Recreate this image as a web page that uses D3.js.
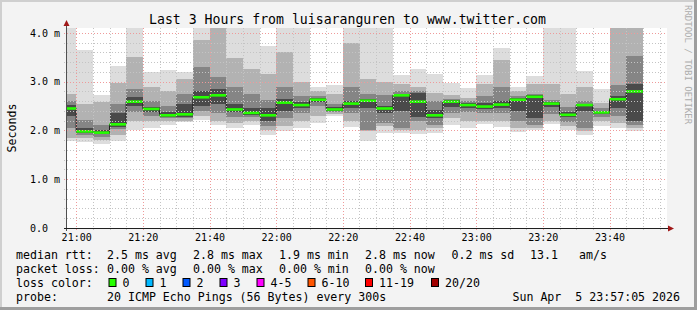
<!DOCTYPE html>
<html>
<head>
<meta charset="utf-8">
<script src="https://d3js.org/d3.v7.min.js"></script>
<style>
    html, body {
        margin: 0px;
        padding: 0px;
        background-color: #f3f3f3;
    }
    svg { display: block; }
    text {
        font-family: "DejaVu Sans Mono", monospace;
        fill: #000;
    }
</style>
</head>
<body>
<svg id="chart" width="697" height="310"></svg>
<script>
// 5 minute slots (start of each step)
const slots = ["20:55","21:00","21:05","21:10","21:15","21:20","21:25","21:30","21:35","21:40",
               "21:45","21:50","21:55","22:00","22:05","22:10","22:15","22:20","22:25","22:30",
               "22:35","22:40","22:45","22:50","22:55","23:00","23:05","23:10","23:15","23:20",
               "23:25","23:30","23:35","23:40","23:45"];
// median rtt in ms
const median = [2.45,1.98,1.955,2.125,2.59,2.44,2.31,2.33,2.68,2.72,
                2.43,2.36,2.31,2.57,2.52,2.63,2.43,2.55,2.61,2.45,
                2.72,2.59,2.31,2.59,2.52,2.49,2.53,2.63,2.69,2.55,
                2.32,2.52,2.37,2.64,2.8];
// smoke bands, outermost (all pings) to innermost (around median), ms
const lo1 = [1.78,1.76,1.72,1.79,2.0,2.04,2.12,2.17,2.22,2.12,2.06,2.12,1.91,1.98,2.06,2.15,2.29,2.08,1.79,1.95,1.95,1.93,1.95,2.12,2.06,2.13,2.08,1.97,2.0,2.13,2.0,1.91,2.1,2.05,1.99];
const hi1 = [4.3,3.64,2.72,3.32,4.3,3.19,3.23,3.2,4.3,4.3,4.1,4.09,3.73,4.3,4.1,2.9,2.94,4.1,4.1,4.1,3.13,3.25,3.16,2.97,2.87,3.13,3.68,2.9,3.11,4.1,4.1,3.21,2.84,4.3,4.3];
const lo2 = [1.85,1.85,1.8,1.9,2.2,2.2,2.2,2.2,2.3,2.2,2.15,2.2,2.0,2.1,2.2,2.3,2.33,2.2,1.98,2.1,2.0,2.0,2.05,2.25,2.2,2.2,2.2,2.05,2.05,2.2,2.1,1.98,2.2,2.15,2.05];
const hi2 = [2.75,2.55,2.58,2.97,3.5,2.9,2.8,3.05,3.85,4.3,3.48,3.25,3.15,3.6,3.0,2.8,2.75,3.8,3.05,3.0,2.95,2.9,2.77,2.73,2.66,2.95,3.45,2.8,2.95,2.95,2.75,2.9,2.56,4.3,4.3];
const lo3 = [2.05,1.9,1.87,2.03,2.38,2.3,2.25,2.25,2.4,2.35,2.28,2.27,2.1,2.25,2.35,2.5,2.37,2.35,2.0,2.15,2.05,2.2,2.12,2.35,2.38,2.35,2.35,2.2,2.12,2.33,2.18,2.05,2.28,2.3,2.12];
const hi3 = [2.6,2.22,2.12,2.55,2.85,2.6,2.5,2.75,3.3,3.1,2.9,2.75,2.63,2.9,2.7,2.7,2.55,2.9,2.75,2.72,2.8,2.8,2.6,2.65,2.6,2.7,2.9,2.7,2.75,2.62,2.48,2.6,2.45,2.94,3.52];
const lo4 = [2.3,1.94,1.92,2.08,2.5,2.38,2.28,2.28,2.5,2.55,2.38,2.32,2.2,2.4,2.45,2.58,2.4,2.45,2.45,2.35,2.4,2.27,2.25,2.48,2.46,2.43,2.45,2.4,2.25,2.48,2.27,2.4,2.33,2.45,2.2];
const hi4 = [2.52,2.06,2.0,2.35,2.68,2.48,2.37,2.55,2.8,2.85,2.55,2.45,2.45,2.65,2.58,2.66,2.48,2.6,2.65,2.5,2.75,2.76,2.42,2.62,2.56,2.56,2.6,2.66,2.72,2.58,2.37,2.55,2.4,2.7,2.95];

const yTicks = [0, 1, 2, 3, 4];
const xTickLabels = ["21:00","21:20","21:40","22:00","22:20","22:40","23:00","23:20","23:40"];
const lossLabels = ["0","1","2","3","4-5","6-10","11-19","20/20"];
const lossColors = ["#26ff00","#00b8ff","#0059ff","#7e00ff","#ff00ff","#ff5500","#ff0000","#a10000"];

const W = 697, H = 310;
const plot = {left: 67, top: 28, width: 600, height: 200};
const parseHM = d3.timeParse("%H:%M");
const parseHMS = d3.timeParse("%H:%M:%S");

const x = d3.scaleTime()
    .domain([parseHMS("20:57:15"), parseHMS("23:57:15")])
    .range([plot.left, plot.left + plot.width]);
const y = d3.scaleLinear()
    .domain([0, 4.1])
    .range([plot.top + plot.height, plot.top]);

const svg = d3.select("#chart");

// canvas + 3d border
svg.append("rect").attr("width", W).attr("height", H).attr("fill", "#f3f3f3");
svg.append("rect").attr("x", 0).attr("y", 0).attr("width", W).attr("height", 2).attr("fill", "#cfcfcf");
svg.append("rect").attr("x", 0).attr("y", 0).attr("width", 2).attr("height", H).attr("fill", "#cfcfcf");
svg.append("rect").attr("x", 0).attr("y", H - 3).attr("width", W).attr("height", 3).attr("fill", "#9e9e9e");
svg.append("rect").attr("x", W - 3).attr("y", 0).attr("width", 3).attr("height", H).attr("fill", "#9e9e9e");

// plot background
svg.append("rect")
    .attr("x", plot.left).attr("y", plot.top)
    .attr("width", plot.width).attr("height", plot.height)
    .attr("fill", "#ffffff");

svg.append("clipPath").attr("id", "clip")
    .append("rect")
    .attr("x", plot.left).attr("y", plot.top)
    .attr("width", plot.width).attr("height", plot.height);

const cols = slots.map((s, i) => {
    const t0 = parseHM(s);
    return {t0: t0, t1: d3.timeMinute.offset(t0, 5), i: i};
});

// smoke, lightest band first, darker towards the median
const bands = [
    {lo: lo1, hi: hi1, color: "#dddddd"},
    {lo: lo2, hi: hi2, color: "#b2b2b2"},
    {lo: lo3, hi: hi3, color: "#858585"},
    {lo: lo4, hi: hi4, color: "#4a4a4a"}
];
const data = svg.append("g").attr("clip-path", "url(#clip)");
bands.forEach(b => {
    data.append("g")
        .selectAll("rect")
        .data(cols)
        .enter()
        .append("rect")
            .attr("x", d => x(d.t0))
            .attr("width", d => x(d.t1) - x(d.t0))
            .attr("y", d => y(b.hi[d.i]))
            .attr("height", d => y(b.lo[d.i]) - y(b.hi[d.i]))
            .attr("fill", b.color)
            .attr("shape-rendering", "crispEdges");
});

// median step line
const stepPts = cols.map(d => [d.t0, median[d.i]]);
stepPts.push([cols[cols.length - 1].t1, median[median.length - 1]]);
data.append("path")
    .datum(stepPts)
    .attr("fill", "none")
    .attr("stroke", "#202020")
    .attr("stroke-width", 1)
    .attr("d", d3.line()
        .x(d => x(d[0]))
        .y(d => y(d[1]))
        .curve(d3.curveStepAfter));

// median coloured by loss (all 0 loss here)
data.append("g")
    .selectAll("rect")
    .data(cols)
    .enter()
    .append("rect")
        .attr("x", d => x(d.t0))
        .attr("width", d => x(d.t1) - x(d.t0))
        .attr("y", d => y(median[d.i]) - 1.3)
        .attr("height", 2.6)
        .attr("fill", lossColors[0]);

// grid
const minorY = d3.range(1, 21).map(v => v * 0.2).filter(v => Math.abs(v - Math.round(v)) > 0.01 && v < 4.1);
const majorY = yTicks.filter(v => v > 0);
const minorX = d3.timeMinute.every(5).range(x.domain()[0], x.domain()[1])
    .filter(t => t.getMinutes() % 20 !== 0);
const majorX = xTickLabels.map(parseHM);

const grid = svg.append("g");
function hLines(vals, color) {
    grid.append("g").selectAll("line").data(vals).enter().append("line")
        .attr("x1", plot.left - 3).attr("x2", plot.left + plot.width)
        .attr("y1", d => Math.round(y(d)) + 0.5).attr("y2", d => Math.round(y(d)) + 0.5)
        .attr("stroke", color).attr("stroke-dasharray", "1,2");
}
function vLines(vals, color) {
    grid.append("g").selectAll("line").data(vals).enter().append("line")
        .attr("x1", d => Math.round(x(d)) + 0.5).attr("x2", d => Math.round(x(d)) + 0.5)
        .attr("y1", plot.top).attr("y2", plot.top + plot.height + 3)
        .attr("stroke", color).attr("stroke-dasharray", "1,2");
}
hLines(minorY, "#c4c4c4");
vLines(minorX, "#c4c4c4");
hLines(majorY, "#ef9a9a");
vLines(majorX, "#ef9a9a");

// axes
svg.append("line")
    .attr("x1", plot.left - 0.5).attr("x2", plot.left - 0.5)
    .attr("y1", plot.top + plot.height + 3).attr("y2", 24)
    .attr("stroke", "#505050");
svg.append("path")
    .attr("d", `M${plot.left - 3.5},26 L${plot.left - 0.5},20 L${plot.left + 2.5},26 Z`)
    .attr("fill", "#a01818");
svg.append("line")
    .attr("x1", plot.left - 3).attr("x2", plot.left + plot.width + 3)
    .attr("y1", plot.top + plot.height + 0.5).attr("y2", plot.top + plot.height + 0.5)
    .attr("stroke", "#202020");
svg.append("path")
    .attr("d", `M${plot.left + plot.width + 1},${plot.top + plot.height - 2.5} L${plot.left + plot.width + 7},${plot.top + plot.height + 0.5} L${plot.left + plot.width + 1},${plot.top + plot.height + 3.5} Z`)
    .attr("fill", "#a01818");

// x tick labels
const xAxis = svg.append("g")
    .attr("transform", "translate(0," + (plot.top + plot.height) + ")")
    .call(d3.axisBottom(x)
        .tickValues(majorX)
        .tickSize(0)
        .tickPadding(5.5)
        .tickFormat(d3.timeFormat("%H:%M")));
xAxis.select(".domain").remove();
xAxis.selectAll("text")
    .attr("font-size", 10)
    .attr("font-family", "DejaVu Sans Mono")
    .attr("fill", "#000");

// y tick labels, left aligned like rrdtool pads them
const yAxis = svg.append("g")
    .attr("transform", "translate(" + plot.left + ",0)")
    .call(d3.axisLeft(y)
        .tickValues(yTicks)
        .tickSize(0)
        .tickFormat(d => d === 0 ? "0.0" : d3.format(".1f")(d) + " m"));
yAxis.select(".domain").remove();
yAxis.selectAll("text")
    .attr("x", 30 - plot.left)
    .attr("text-anchor", "start")
    .attr("font-size", 10)
    .attr("font-family", "DejaVu Sans Mono")
    .attr("fill", "#000");

// title and axis label
svg.append("text")
    .attr("x", 347.5).attr("y", 23.5)
    .attr("text-anchor", "middle")
    .attr("font-size", 13.2)
    .text("Last 3 Hours from luisaranguren to www.twitter.com");

svg.append("text")
    .attr("transform", "translate(15.5,128) rotate(-90)")
    .attr("text-anchor", "middle")
    .attr("font-size", 11.6)
    .text("Seconds");

svg.append("text")
    .attr("transform", "translate(688,5) rotate(90)")
    .attr("dominant-baseline", "central")
    .attr("font-size", 9)
    .style("fill", "#adadad")
    .text("RRDTOOL / TOBI OETIKER");

// legend
const fs = 11.6;
function legendRow(yb, items) {
    items.forEach(it => {
        svg.append("text")
            .attr("x", it[0]).attr("y", yb)
            .attr("font-size", fs)
            .attr("xml:space", "preserve")
            .text(it[1]);
    });
}
legendRow(258.5, [[16, "median rtt:"], [107, "2.5 ms avg"], [193, "2.8 ms max"], [279, "1.9 ms min"],
                  [365, "2.8 ms now"], [451.5, "0.2 ms sd"], [530, "13.1"], [579, "am/s"]]);
legendRow(272.5, [[16, "packet loss:"], [107, "0.00 % avg"], [193, "0.00 % max"], [279, "0.00 % min"],
                  [365, "0.00 % now"]]);
legendRow(286.5, [[16, "loss color:"]]);
const boxX = [108.5, 145.5, 182.5, 219.5, 256.5, 307.5, 365, 431];
lossLabels.forEach((l, i) => {
    svg.append("rect")
        .attr("x", boxX[i] + 0.5).attr("y", 278.5)
        .attr("width", 7).attr("height", 8)
        .attr("fill", lossColors[i])
        .attr("stroke", "#000").attr("stroke-width", 1);
    svg.append("text")
        .attr("x", boxX[i] + 14).attr("y", 286.5)
        .attr("font-size", fs)
        .text(l);
});
legendRow(300.5, [[16, "probe:"], [107, "20 ICMP Echo Pings (56 Bytes) every 300s"]]);
svg.append("text")
    .attr("x", 680).attr("y", 300.5)
    .attr("text-anchor", "end")
    .attr("font-size", fs)
    .attr("xml:space", "preserve")
    .text("Sun Apr  5 23:57:05 2026");
</script>
</body>
</html>
